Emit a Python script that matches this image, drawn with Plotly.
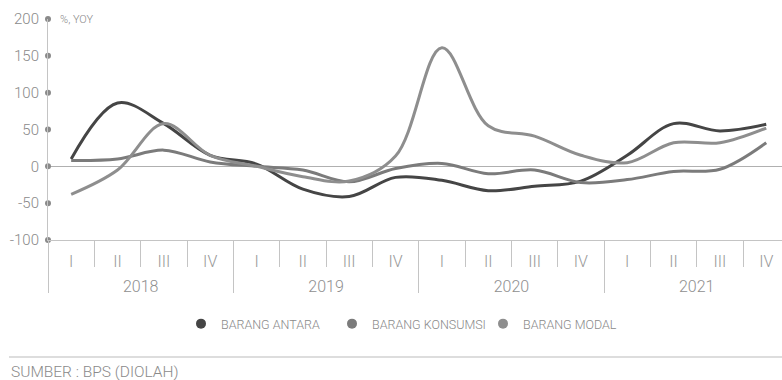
import plotly.graph_objects as go

years = ["2018", "2019", "2020", "2021"]
quarters = ["I", "II", "III", "IV"]
barang_antara = [10, 86, 58, 15, 3, -31, -41, -15, -19, -33, -27, -20, 15, 58, 48, 57]
barang_konsumsi = [8, 10, 22, 6, 0, -5, -21, -3, 4, -10, -5, -22, -18, -7, -4, 32]
barang_modal = [-38, -5, 58, 15, 0, -14, -20, 14, 161, 55, 41, 15, 5, 32, 32, 52]
series_names = ["BARANG ANTARA", "BARANG KONSUMSI", "BARANG MODAL"]
series_colors = ["#454545", "#7b7b7b", "#8e8e8e"]
y_ticks = [-100, -50, 0, 50, 100, 150, 200]
y_ticktext = [str(v) for v in y_ticks]

nq = len(quarters)
x_quarters = [q for _ in years for q in quarters]
n = len(x_quarters)
x_idx = list(range(n))
year_centers = [i * nq + (nq - 1) / 2 for i in range(len(years))]
year_bounds = [i * nq - 0.5 for i in range(len(years) + 1)]
quarter_bounds = [i - 0.5 for i in range(1, n)]
x_range = [-0.5, 15.34]

W, H = 782, 380
ML, MR, MT, MB = 48, 0, 19, 140
plot_h = H - MT - MB
plot_w = W - ML - MR
AX = "#c4c4c4"
TXT = "#8a8a8a"
FONT = "Roboto"

fig = go.Figure()
for name, vals, col in zip(series_names, [barang_antara, barang_konsumsi, barang_modal], series_colors):
    fig.add_trace(go.Scatter(
        x=x_idx, y=vals, mode="lines", name=name,
        line=dict(color=col, width=3, shape="spline", smoothing=1.0),
        showlegend=False, hoverinfo="skip"))
for name, col in zip(series_names, series_colors):
    fig.add_trace(go.Scatter(
        x=[None], y=[None], mode="markers", name=name,
        marker=dict(color=col, size=10)))

# dots on the y axis at each tick
fig.add_trace(go.Scatter(
    x=[x_range[0]] * len(y_ticks), y=y_ticks, mode="markers",
    marker=dict(color=TXT, size=6), cliponaxis=False,
    showlegend=False, hoverinfo="skip"))

# empty traces so that the helper axes get drawn
for ax in ["x2", "x3", "x4"]:
    fig.add_trace(go.Scatter(x=[None], y=[None], mode="markers", xaxis=ax,
                             showlegend=False, hoverinfo="skip"))

common = dict(range=x_range, showgrid=False, zeroline=False, fixedrange=True)

fig.update_layout(
    width=W, height=H,
    margin=dict(l=ML, r=MR, t=MT, b=MB),
    paper_bgcolor="white", plot_bgcolor="white",
    font=dict(family=FONT, size=12, color=TXT),
    xaxis=dict(
        **common, tickvals=x_idx, ticktext=x_quarters,
        showline=True, linecolor=AX, linewidth=1, ticks="",
        ticklabelstandoff=7,
        tickfont=dict(family=FONT, size=16, color="#999999", weight=300),
    ),
    # quarter separators
    xaxis2=dict(
        **common, overlaying="x", anchor="y", side="bottom",
        tickvals=quarter_bounds, ticks="outside", ticklen=26, tickcolor=AX, tickwidth=1,
        showticklabels=False, showline=False,
    ),
    # year separators
    xaxis3=dict(
        **common, overlaying="x", anchor="y", side="bottom",
        tickvals=year_bounds, ticks="outside", ticklen=52, tickcolor=AX, tickwidth=1,
        showticklabels=False, showline=False,
    ),
    # year labels
    xaxis4=dict(
        **common, overlaying="x", anchor="y", side="bottom",
        tickvals=year_centers, ticktext=years, ticks="",
        ticklabelstandoff=35, showline=False,
        tickfont=dict(family=FONT, size=16, color="#8f8f8f", weight=300),
    ),
    yaxis=dict(
        range=[-100, 200], tickvals=y_ticks, ticktext=y_ticktext, fixedrange=True,
        showline=True, linecolor=AX, linewidth=1,
        showgrid=False, zeroline=True, zerolinecolor="#b0b0b0", zerolinewidth=1,
        ticks="", ticklabelstandoff=5,
        tickfont=dict(family=FONT, size=15, color=TXT, weight=300),
    ),
    legend=dict(
        orientation="h", x=181 / W, xref="container", xanchor="left",
        y=1 - 324 / H, yref="container", yanchor="middle",
        entrywidth=106, entrywidthmode="pixels",
        font=dict(family=FONT, size=12.5, color=TXT, weight=300),
    ),
    shapes=[
        dict(type="line", xref="paper", yref="paper",
             x0=(9 - ML) / plot_w, x1=1, y0=(MT + plot_h - 357) / plot_h,
             y1=(MT + plot_h - 357) / plot_h,
             line=dict(color="#dddddd", width=2)),
    ],
    annotations=[
        dict(text="%, YOY", x=x_range[0], y=200, xref="x", yref="y",
             xanchor="left", yanchor="middle", xshift=10, showarrow=False,
             font=dict(family=FONT, size=11, color=TXT, weight=300)),
        dict(text="SUMBER : BPS (DIOLAH)", x=(9 - ML) / plot_w,
             y=(MT + plot_h - 372) / plot_h, xref="paper", yref="paper",
             showarrow=False, xanchor="left", yanchor="middle",
             font=dict(family=FONT, size=15.5, color=TXT, weight=300)),
    ],
)
fig.write_html("out.html")
